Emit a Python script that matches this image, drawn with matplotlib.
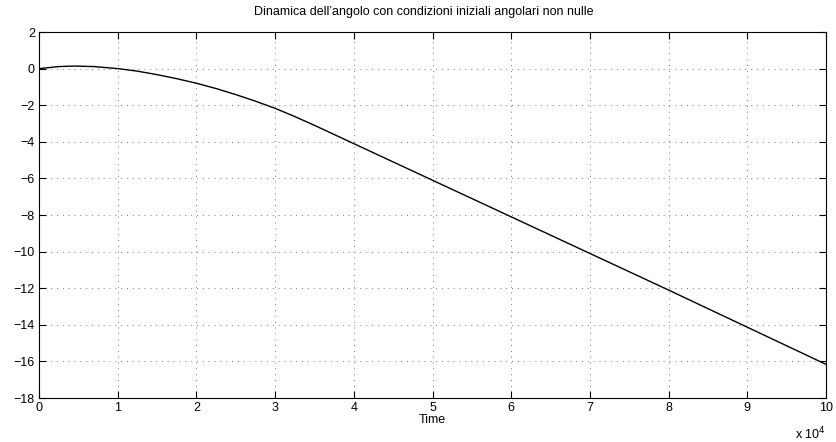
import matplotlib.pyplot as plt
import numpy as np

# angle vs time (samples read from the simulation output)
time = [0, 2500, 4500, 7000, 10000, 12500, 15000, 17500, 20000, 22500,
        25000, 27500, 30000, 32500, 35000, 40000, 50000, 60000, 70000,
        80000, 90000, 100000]
angle = [0.0, 0.11, 0.14, 0.11, 0.0, -0.14, -0.33, -0.55, -0.80, -1.09,
         -1.42, -1.78, -2.17, -2.62, -3.10, -4.10, -6.10, -8.10, -10.10,
         -12.10, -14.13, -16.16]

x_ticks = [i * 10000 for i in range(11)]
x_labels = [str(i) for i in range(11)]
y_ticks = list(range(-18, 3, 2))

plt.rcParams['font.family'] = ['Liberation Sans', 'DejaVu Sans']
plt.rcParams['font.size'] = 9

fig = plt.figure(figsize=(8.36, 4.42), dpi=100)
ax = fig.add_axes([0.0467, 0.0995, 0.9413, 0.8281])

ax.plot(time, angle, color='black', linewidth=1.0)

ax.set_xlim(0, 100000)
ax.set_ylim(-18, 2)
ax.set_xticks(x_ticks)
ax.set_xticklabels(x_labels)
ax.set_yticks(y_ticks)
ax.set_yticklabels([str(v).replace('-', '\u2212') for v in y_ticks])

ax.grid(True, linestyle=(0, (1, 5)), color='#777777', linewidth=0.7)
ax.tick_params(direction='in', length=5, width=0.8, top=True, right=True,
               colors='black', pad=3)
for s in ax.spines.values():
    s.set_linewidth(0.8)

ax.set_title("Dinamica dell\u2019angolo con condizioni iniziali angolari non nulle",
             fontsize=9, pad=12, x=0.489)
ax.set_xlabel('Time', fontsize=9, labelpad=0)
ax.text(1.0, -0.075, r'x 10$^4$', transform=ax.transAxes, ha='right', va='top',
        fontsize=9)

fig.savefig('out.png', dpi=100)
